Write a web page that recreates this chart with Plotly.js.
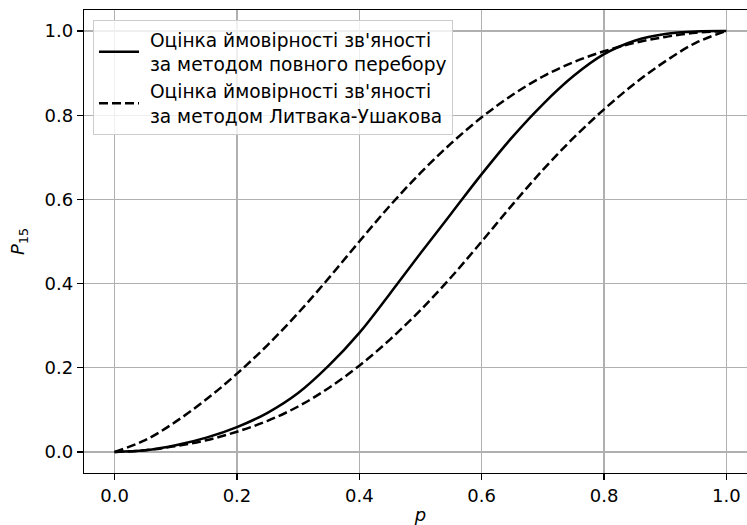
<!DOCTYPE html>
<html>
<head>
<meta charset="utf-8">
<script src="https://cdn.plot.ly/plotly-3.0.1.min.js"></script>
<style>
html, body { margin: 0; padding: 0; overflow: hidden; background: #ffffff; }
#chart { width: 760px; height: 525px; }
</style>
</head>
<body>
<div id="chart"></div>
<script>
// Probability of an edge (x axis)
var pValues = [0, 0.05, 0.1, 0.15, 0.2, 0.25, 0.3, 0.35, 0.4, 0.45, 0.5, 0.55, 0.6, 0.65, 0.7, 0.75, 0.8, 0.85, 0.9, 0.95, 1.0];
// Exact estimate (full enumeration)
var exactP15 = [0, 0.004, 0.016, 0.034, 0.059, 0.093, 0.14, 0.205, 0.283, 0.376, 0.472, 0.566, 0.66, 0.748, 0.826, 0.893, 0.945, 0.977, 0.993, 0.999, 1.0];
// Litvak-Ushakov upper bound
var upperBound = [0, 0.028, 0.072, 0.125, 0.186, 0.254, 0.33, 0.413, 0.5, 0.585, 0.663, 0.733, 0.795, 0.848, 0.892, 0.926, 0.952, 0.972, 0.986, 0.996, 1.0];
// Litvak-Ushakov lower bound
var lowerBound = [0, 0.004, 0.014, 0.028, 0.048, 0.074, 0.108, 0.152, 0.205, 0.267, 0.337, 0.415, 0.5, 0.587, 0.67, 0.746, 0.814, 0.875, 0.928, 0.972, 1.0];

var legendExact = "\u00a0Оцінка ймовірності зв'яності<br>\u00a0за методом повного перебору";
var legendLU = "\u00a0Оцінка ймовірності зв'яності<br>\u00a0за методом Литвака-Ушакова";

var tickVals = [0, 0.2, 0.4, 0.6, 0.8, 1.0];
var tickText = ["0.0", "0.2", "0.4", "0.6", "0.8", "1.0"];

var FONT = "DejaVu Sans, sans-serif";
var FS = 18;

var lineStyle = function (dash) {
  var s = { color: "#000000", width: 2.5, shape: "spline", smoothing: 1 };
  if (dash) s.dash = "9px,4px";
  return s;
};

var traces = [
  { x: pValues, y: exactP15, type: "scatter", mode: "lines", name: legendExact, line: lineStyle(false) },
  { x: pValues, y: upperBound, type: "scatter", mode: "lines", name: legendLU, legendgroup: "lu", line: lineStyle(true) },
  { x: pValues, y: lowerBound, type: "scatter", mode: "lines", name: legendLU, legendgroup: "lu", showlegend: false, line: lineStyle(true) }
];

var axisCommon = {
  showgrid: true, gridcolor: "#b0b0b0", gridwidth: 1.3,
  zeroline: false,
  showline: true, linecolor: "#000000", linewidth: 1.3, mirror: true,
  ticks: "outside", ticklen: 6, tickwidth: 1.3, tickcolor: "#000000",
  tickfont: { family: FONT, size: FS, color: "#000000" },
  tickvals: tickVals, ticktext: tickText
};

var layout = {
  width: 760, height: 525,
  margin: { l: 84, r: 3, t: 10, b: 52 },
  paper_bgcolor: "#ffffff", plot_bgcolor: "#ffffff",
  font: { family: FONT, size: FS, color: "#000000" },
  showlegend: true,
  xaxis: Object.assign({}, axisCommon, {
    range: [-0.05, 1.05],
    title: { text: "<i>p</i>", font: { family: FONT, size: FS, color: "#000000" }, standoff: 4 }
  }),
  yaxis: Object.assign({}, axisCommon, {
    range: [-0.05, 1.05],
    title: { text: "<i>P</i><sub>15</sub>", font: { family: FONT, size: FS, color: "#000000" }, standoff: 15 }
  }),
  legend: {
    x: 0.0134, y: 0.978, xanchor: "left", yanchor: "top",
    bgcolor: "rgba(255,255,255,0.8)", bordercolor: "#cccccc", borderwidth: 1,
    font: { family: FONT, size: 18.6, color: "#000000" },
    itemwidth: 40, tracegroupgap: 0
  }
};

Plotly.newPlot("chart", traces, layout, { staticPlot: true, displayModeBar: false });
</script>
</body>
</html>
